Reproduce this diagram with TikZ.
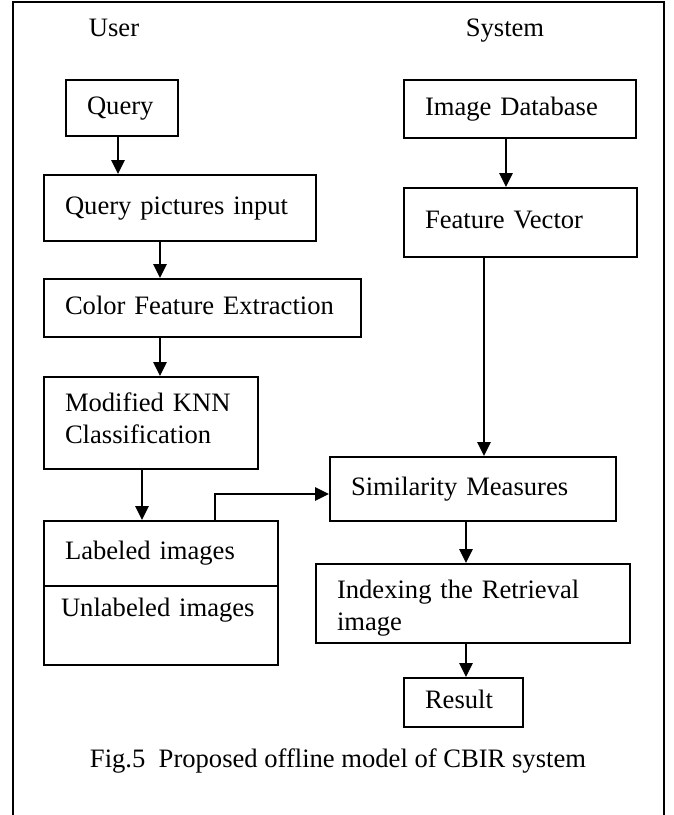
\documentclass[tikz,border=0pt]{standalone}
\usepackage{fontspec}
\setmainfont{Liberation Serif}
\usetikzlibrary{arrows.meta}

\begin{document}
\begin{tikzpicture}[x=1pt, y=-1pt,
  every node/.style={font=\fontsize{26.6}{32}\selectfont},
  box/.style={draw, line width=2pt, anchor=north west, align=left, inner xsep=21pt, inner ysep=0pt},
  one/.style={text height=18pt, text depth=6pt},
  arr/.style={line width=2.7pt, -{Triangle[length=14pt, width=13pt]}}]
\useasboundingbox (0,0) rectangle (673,815);
\draw[line width=2pt] (13,815) -- (13,2) -- (664,2) -- (664,815);
\node[one] (user) at (114,30) {User};
\node[one] (system) at (505,30) {System};
% user side
\node[box, one, text width=70pt, minimum height=56pt] (query) at (65,79) {Query};
\node[box, one, text width=230pt, minimum height=66pt] (qpi) at (43,174) {Query pictures input};
\node[box, one, text width=275pt, minimum height=58pt] (cfe) at (43,278) {Color Feature Extraction};
\node[box, text width=172pt, minimum height=92pt, text depth=42pt] (knn) at (43,376) {Modified KNN\\Classification};
\node[box, one, text width=192pt, minimum height=65pt] (lab) at (43,520) {Labeled images};
\node[box, text width=200pt, inner xsep=17pt, minimum height=79pt, text height=18pt, text depth=36pt] (unlab) at (43,585) {\mbox{Unlabeled images}};
% system side
\node[box, one, text width=190pt, minimum height=58pt] (imgdb) at (403,79) {Image Database};
\node[box, one, text width=191pt, minimum height=69pt] (fvec) at (403,187) {Feature Vector};
\node[box, one, text width=244pt, minimum height=64pt] (sim) at (329,456) {Similarity Measures};
\node[box, text width=272pt, minimum height=79pt, text height=27pt] (idx) at (315,563) {Indexing the Retrieval\\image};
\node[box, one, text width=77pt, minimum height=49pt] (result) at (403,677) {Result};
\node[one] (caption) at (338,761) {Fig.5\ \ Proposed offline model of CBIR system};
% arrows
\draw[arr] (query.south -| 118,0) -- (qpi.north -| 118,0);
\draw[arr] (qpi.south -| 160,0) -- (cfe.north -| 160,0);
\draw[arr] (cfe.south -| 160,0) -- (knn.north -| 160,0);
\draw[arr] (knn.south -| 142,0) -- (lab.north -| 142,0);
\draw[arr] (lab.north -| 215,0) |- ([yshift=-5pt]sim.west);
\draw[arr] (imgdb.south -| 506,0) -- (fvec.north -| 506,0);
\draw[arr] (fvec.south -| 484,0) -- (sim.north -| 484,0);
\draw[arr] (sim.south -| 466,0) -- (idx.north -| 466,0);
\draw[arr] (idx.south -| 466,0) -- (result.north -| 466,0);
\end{tikzpicture}
\end{document}
